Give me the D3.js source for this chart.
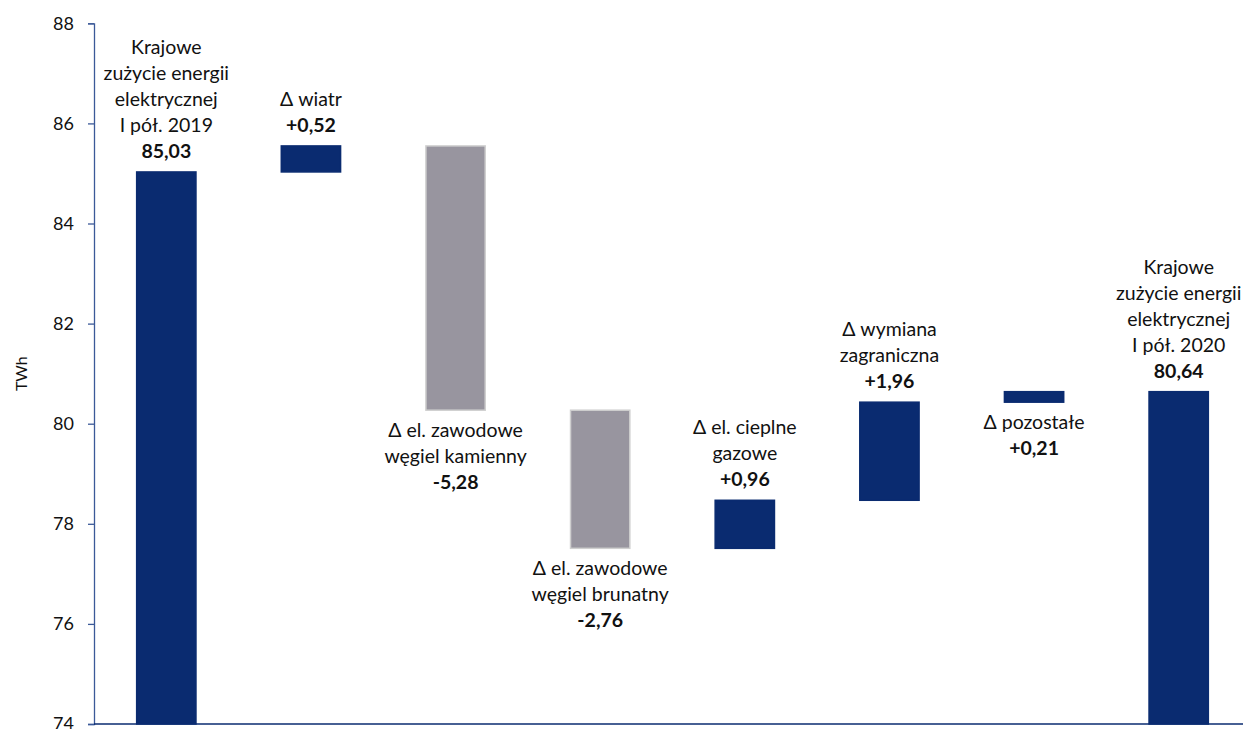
<!DOCTYPE html>
<html>
<head>
<meta charset="utf-8">
<script src="https://cdn.jsdelivr.net/npm/d3@7"></script>
<style>
  body { margin: 0; background: #fff; }
  svg { font-family: Lato, "Open Sans", sans-serif; }
</style>
</head>
<body>
<div id="chart"></div>
<script>
// chart size
const c_width = 1243;
const c_height = 729;

// data
const categories = ["start", "wiatr", "kamienny", "brunatny", "gazowe", "wymiana", "pozostale", "end"];
const deltas = [85.03, 0.52, -5.28, -2.76, 0.96, 1.96, 0.21, 80.64];
const kinds = ["total", "delta", "delta", "delta", "delta", "delta", "delta", "total"];
const labelLines = [
  ["Krajowe", "zużycie energii", "elektrycznej", "I pół. 2019"],
  ["Δ wiatr"],
  ["Δ el. zawodowe", "węgiel kamienny"],
  ["Δ el. zawodowe", "węgiel brunatny"],
  ["Δ el. cieplne", "gazowe"],
  ["Δ wymiana", "zagraniczna"],
  ["Δ pozostałe"],
  ["Krajowe", "zużycie energii", "elektrycznej", "I pół. 2020"]
];
const valueLabels = ["85,03", "+0,52", "-5,28", "-2,76", "+0,96", "+1,96", "+0,21", "80,64"];
const labelSide = ["above", "above", "below", "below", "above", "above", "below", "above"];
const yTicks = [74, 76, 78, 80, 82, 84, 86, 88];

// build waterfall rows
let running = 0;
const rows = categories.map((c, i) => {
  let y0, y1;
  if (kinds[i] === "total") { y0 = 74; y1 = deltas[i]; running = deltas[i]; }
  else { y0 = running; y1 = running + deltas[i]; running = y1; }
  return {cat: c, lo: Math.min(y0, y1), hi: Math.max(y0, y1), neg: deltas[i] < 0,
          lines: labelLines[i], value: valueLabels[i], side: labelSide[i]};
});

const svg = d3.select("#chart").append("svg")
  .attr("width", c_width).attr("height", c_height);

const padLeft = 94, padTop = 23.3, padBottom = 724;

const xScale = d3.scaleBand().domain(categories)
  .range([padLeft, 1251]).paddingInner(0.59).paddingOuter(0.295);
const yScale = d3.scaleLinear().domain([74, 88]).range([padBottom, padTop]);

// y axis
const yAxis = d3.axisLeft(yScale).tickValues(yTicks).tickSize(6).tickPadding(14).tickFormat(d3.format("d"));
const gy = svg.append("g").attr("transform", "translate(" + padLeft + ",0)").call(yAxis);
gy.select(".domain").attr("stroke", "#3b5998").attr("stroke-width", 1.3);
gy.selectAll(".tick line").attr("stroke", "#3b5998").attr("stroke-width", 1.3);
gy.selectAll(".tick text").attr("fill", "#111").style("font-size", "18px")
  .style("font-family", "Lato, sans-serif");

// bars
svg.selectAll("rect.bar").data(rows).enter().append("rect")
  .attr("class", "bar")
  .attr("x", d => xScale(d.cat))
  .attr("width", xScale.bandwidth())
  .attr("y", d => yScale(d.hi))
  .attr("height", d => yScale(d.lo) - yScale(d.hi))
  .attr("fill", d => d.neg ? "#98959f" : "#0a2b70")
  .attr("stroke", d => d.neg ? "#cfcfcf" : "#0a2b70")
  .attr("stroke-width", 1.5);

// x axis line
svg.append("line")
  .attr("x1", padLeft).attr("x2", c_width)
  .attr("y1", padBottom).attr("y2", padBottom)
  .attr("stroke", "#0a2b70").attr("stroke-width", 1.5);

// labels
const lineH = 26;
rows.forEach(d => {
  const cx = xScale(d.cat) + xScale.bandwidth() / 2;
  const all = d.lines.concat([d.value]);
  let firstY;
  if (d.side === "above") firstY = yScale(d.hi) - 14 - lineH * (all.length - 1);
  else firstY = yScale(d.lo) + 27;
  const t = svg.append("text").attr("text-anchor", "middle").style("font-size", "19.5px").attr("fill", "#111");
  all.forEach((l, j) => {
    t.append("tspan").attr("x", cx).attr("y", firstY + j * lineH)
      .style("font-weight", j === all.length - 1 ? "bold" : "normal")
      .text(l);
  });
});

// axis title
svg.append("text")
  .attr("transform", "translate(27," + ((padTop + padBottom) / 2) + ") rotate(-90)")
  .attr("text-anchor", "middle")
  .style("font-size", "16px")
  .attr("fill", "#111")
  .text("TWh");
</script>
</body>
</html>
